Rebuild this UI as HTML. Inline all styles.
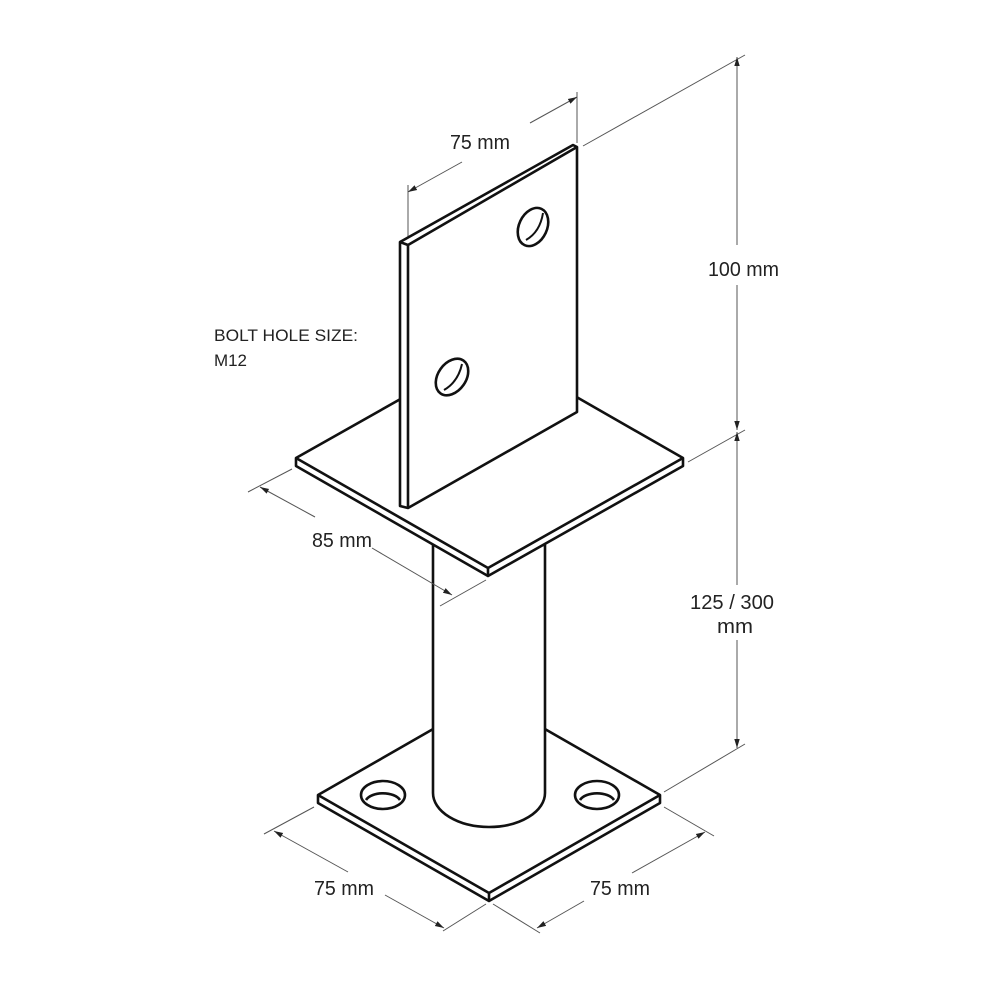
<!DOCTYPE html>
<html><head><meta charset="utf-8"><style>
html,body{margin:0;padding:0;background:#fff;width:1000px;height:1000px;overflow:hidden}
text{font-family:"Liberation Sans",Arial,sans-serif;font-size:20px;fill:#222}
</style></head><body>
<svg width="1000" height="1000" viewBox="0 0 1000 1000" xmlns="http://www.w3.org/2000/svg">
<defs>
<marker id="a" viewBox="0 0 10 10" refX="10" refY="5" markerWidth="9" markerHeight="9" orient="auto-start-reverse" markerUnits="userSpaceOnUse"><path d="M0,2 L10,5 L0,8 z" fill="#222"/></marker>
</defs>
<g stroke="#555" stroke-width="1" fill="none">
<line x1="408" y1="240" x2="408" y2="185"/>
<line x1="577" y1="143" x2="577" y2="92"/>
<line x1="408" y1="192" x2="462" y2="162" marker-start="url(#a)"/>
<line x1="530" y1="123" x2="577" y2="97" marker-end="url(#a)"/>
<line x1="583" y1="146" x2="745" y2="55"/>
<line x1="688" y1="462" x2="745" y2="430"/>
<line x1="737" y1="57" x2="737" y2="245" marker-start="url(#a)"/>
<line x1="737" y1="285" x2="737" y2="430" marker-end="url(#a)"/>
<line x1="737" y1="432" x2="737" y2="585" marker-start="url(#a)"/>
<line x1="737" y1="640" x2="737" y2="748" marker-end="url(#a)"/>
<line x1="664" y1="792" x2="745" y2="744"/>
<line x1="292" y1="469" x2="248" y2="492"/>
<line x1="260" y1="487" x2="315" y2="517" marker-start="url(#a)"/>
<line x1="314" y1="807" x2="264" y2="834"/>
<line x1="486" y1="904" x2="443" y2="931"/>
<line x1="274" y1="831" x2="348" y2="872" marker-start="url(#a)"/>
<line x1="385" y1="895" x2="444" y2="928" marker-end="url(#a)"/>
<line x1="664" y1="807" x2="714" y2="836"/>
<line x1="493" y1="904" x2="540" y2="933"/>
<line x1="537" y1="928" x2="584" y2="901" marker-start="url(#a)"/>
<line x1="632" y1="873" x2="705" y2="832" marker-end="url(#a)"/>
</g>
<g stroke="#111" stroke-width="2.6" fill="#fff" stroke-linejoin="round">
<path d="M318,795 L489,697 L660,795 L660,803 L489,901 L318,803 Z"/>
<path d="M318,795 L489,893 L660,795 M489,893 L489,901" fill="none"/>
<ellipse cx="383" cy="795" rx="22" ry="14"/>
<path d="M366,800 A18,10 0 0 1 400,800" fill="none"/>
<ellipse cx="597" cy="795" rx="22" ry="14"/>
<path d="M580,800 A18,10 0 0 1 614,800" fill="none"/>
<path d="M433,545 L433,793 A56,34 0 0 0 545,793 L545,545 Z"/>
<path d="M296,458 L491,348 L683,458 L683,466 L488,576 L296,466 Z"/>
<path d="M296,458 L488,568 L683,458 M488,568 L488,576" fill="none"/>
<path d="M400,242 L573,145 L577,147 L577,412 L408,508 L400,506 Z"/>
<path d="M400,242 L408,245 L577,147 M408,245 L408,508" fill="none"/>
<ellipse cx="533" cy="227" rx="14" ry="20" transform="rotate(25 533 227)"/>
<path d="M526,240 Q540,232 543,213" fill="none" stroke-width="2"/>
<ellipse cx="452" cy="377" rx="14" ry="20" transform="rotate(35 452 377)"/>
<path d="M444,390 Q458,382 462,364" fill="none" stroke-width="2"/>
</g>
<g stroke="#555" stroke-width="1" fill="none">
<line x1="486" y1="580" x2="440" y2="606"/>
<line x1="372" y1="548" x2="452" y2="595" marker-end="url(#a)"/>
</g>
<text x="450" y="149" textLength="60" lengthAdjust="spacingAndGlyphs">75 mm</text>
<text x="708" y="276" textLength="71" lengthAdjust="spacingAndGlyphs">100 mm</text>
<text x="690" y="609" textLength="84" lengthAdjust="spacingAndGlyphs">125 / 300</text>
<text x="717" y="633" textLength="36" lengthAdjust="spacingAndGlyphs">mm</text>
<text x="312" y="547" textLength="60" lengthAdjust="spacingAndGlyphs">85 mm</text>
<text x="314" y="895" textLength="60" lengthAdjust="spacingAndGlyphs">75 mm</text>
<text x="590" y="895" textLength="60" lengthAdjust="spacingAndGlyphs">75 mm</text>
<text x="214" y="341" style="font-size:17px" textLength="144" lengthAdjust="spacingAndGlyphs">BOLT HOLE SIZE:</text>
<text x="214" y="366" style="font-size:17px" textLength="33" lengthAdjust="spacingAndGlyphs">M12</text>
</svg>
</body></html>
